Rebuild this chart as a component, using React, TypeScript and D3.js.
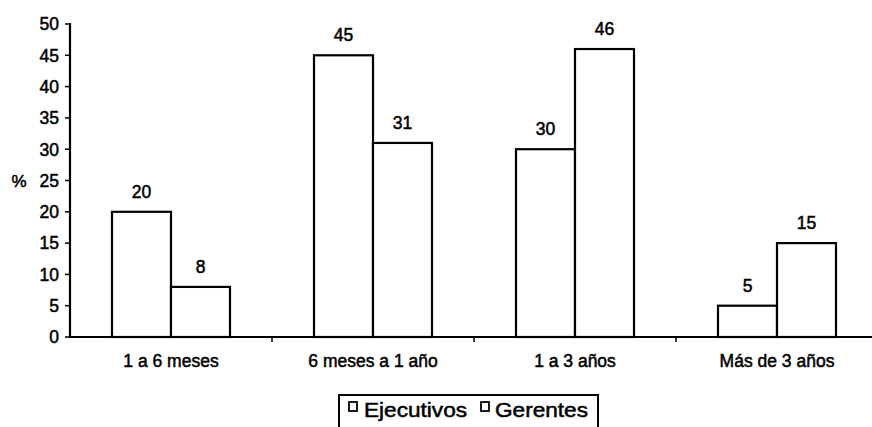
import React from "react";
import * as d3 from "d3";

const categories = ["1 a 6 meses", "6 meses a 1 año", "1 a 3 años", "Más de 3 años"];
const seriesNames = ["Ejecutivos", "Gerentes"];
const ejecutivos = [20, 45, 30, 5];
const gerentes = [8, 31, 46, 15];
const yTicks = [0, 5, 10, 15, 20, 25, 30, 35, 40, 45, 50];

const W = 872;
const H = 427;
const FONT = "'Liberation Sans', Arial, Helvetica, sans-serif";
const TS = { stroke: "#000", strokeWidth: 0.5 };

export default function App() {
  const x = d3.scaleBand<string>().domain(categories).range([70, 878]).paddingInner(0).paddingOuter(0);
  const y = d3.scaleLinear().domain([0, 50]).range([337, 24]);
  const barW = 59;
  const series = [ejecutivos, gerentes];

  return (
    <svg width={W} height={H} style={{ position: "absolute", left: 0, top: 0, background: "#fff" }}>
      <rect x={0} y={0} width={W} height={H} fill="#fff" />
      {categories.map((c, i) => {
        const cx = (x(c) as number) + x.bandwidth() / 2;
        return series.map((s, k) => {
          const bx = k === 0 ? cx - barW : cx;
          const top = y(s[i]);
          return (
            <g key={c + k}>
              <rect x={bx} y={top} width={barW} height={y(0) - top} fill="#fff" stroke="#000" strokeWidth={2.2} />
              <text x={bx + barW / 2} y={top - 14} textAnchor="middle" fontFamily={FONT} fontSize={17.5} fill="#000" {...TS}>
                {s[i]}
              </text>
            </g>
          );
        });
      })}
      <line x1={70} x2={70} y1={y(50) - 1} y2={y(0)} stroke="#000" strokeWidth={2.2} />
      {yTicks.map((t) => (
        <g key={t}>
          <line x1={65} x2={70} y1={y(t)} y2={y(t)} stroke="#000" strokeWidth={1.5} />
          <text x={59} y={y(t)} dy="0.36em" textAnchor="end" fontFamily={FONT} fontSize={17.5} fill="#000" {...TS}>
            {t}
          </text>
        </g>
      ))}
      <text x={19} y={y(25)} dy="0.36em" textAnchor="middle" fontFamily={FONT} fontSize={17} fill="#000" {...TS}>
        %
      </text>
      <line x1={69} x2={880} y1={y(0)} y2={y(0)} stroke="#000" strokeWidth={2.2} />
      {categories.map((c, i) =>
        i > 0 ? (
          <line key={"t" + c} x1={x(c) as number} x2={x(c) as number} y1={y(0)} y2={y(0) + 5} stroke="#000" strokeWidth={1.5} />
        ) : null
      )}
      {categories.map((c) => (
        <text key={"l" + c} x={(x(c) as number) + x.bandwidth() / 2} y={367} textAnchor="middle" fontFamily={FONT} fontSize={17.5} fill="#000" {...TS}>
          {c}
        </text>
      ))}
      <rect x={339} y={395} width={259} height={40} fill="#fff" stroke="#000" strokeWidth={2} />
      <rect x={349} y={402} width={8} height={9} fill="#fff" stroke="#000" strokeWidth={1.8} />
      <text x={364} y={417} fontFamily={FONT} fontSize={20} fill="#000" textLength={103} lengthAdjust="spacingAndGlyphs" {...TS}>
        {seriesNames[0]}
      </text>
      <rect x={481} y={402} width={8} height={9} fill="#fff" stroke="#000" strokeWidth={1.8} />
      <text x={495} y={417} fontFamily={FONT} fontSize={20} fill="#000" textLength={93} lengthAdjust="spacingAndGlyphs" {...TS}>
        {seriesNames[1]}
      </text>
    </svg>
  );
}
